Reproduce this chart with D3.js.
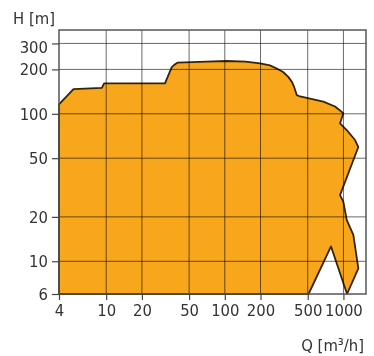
<!DOCTYPE html>
<meta charset="utf-8">
<style>

body {
  margin: 0;
  background: #fff;
}

svg text {
  font-family: "DejaVu Sans Condensed", "DejaVu Sans", sans-serif;
  font-stretch: condensed;
  font-size: 16.5px;
  fill: #333;
}

.grid line {
  stroke: #6a6a6a;
  stroke-width: 1;
  mix-blend-mode: multiply;
}

.axis line {
  stroke: #444;
  stroke-width: 1.2;
}

</style>
<body>
<svg width="374" height="356"></svg>
<script src="https://d3js.org/d3.v7.min.js"></script>
<script>

// Pump operating range, traced around the outline (Q in m3/h, H in m)
var rangeQ = [4, 4, 5.3, 9.2, 9.6, 31.3, 35.7, 37.3, 39.8, 70, 104, 150, 198, 240, 274, 310, 343, 369, 383, 404, 422,
              677, 849, 998, 936, 1066, 1253, 1336, 936, 998, 1066, 1212, 1336, 1073, 786, 508];
var rangeH = [6, 116, 147, 150, 161, 161, 207, 214, 222, 226, 228, 226, 220, 213, 203, 192, 178, 164, 153, 134, 132,
              121, 112, 101, 86, 77.6, 66.4, 59.5, 28.1, 25.4, 19.1, 15.1, 8.96, 6, 12.6, 6];

// Tick values
var qTicks = [4, 10, 20, 50, 100, 200, 500, 1000];
var hTicks = [6, 10, 20, 50, 100, 200, 300];

var svg = d3.select("svg"),
    margin = {top: 30, right: 8, bottom: 62, left: 59},
    width = +svg.attr("width") - margin.left - margin.right,
    height = +svg.attr("height") - margin.top - margin.bottom;

var x = d3.scaleLog().domain([4, 1550]).range([0, width]),
    y = d3.scaleLog().domain([6, 370]).range([height, 0]);

var g = svg.append("g")
    .attr("transform", "translate(" + margin.left + "," + margin.top + ")");

// Operating area
var pts = rangeQ.map(function(q, i) { return [q, rangeH[i]]; });
var line = d3.line()
    .x(function(d) { return x(d[0]); })
    .y(function(d) { return y(d[1]); });

g.append("path")
    .attr("d", line(pts) + "Z")
    .attr("fill", "#f8a71c")
    .attr("stroke", "#33240e")
    .attr("stroke-width", 1.8)
    .attr("stroke-linejoin", "round");

// Grid lines drawn on top of the area
var grid = g.append("g").attr("class", "grid");
grid.selectAll(".v")
    .data(qTicks.filter(function(d) { return d > 4; }))
    .enter().append("line")
      .attr("x1", function(d) { return x(d); })
      .attr("x2", function(d) { return x(d); })
      .attr("y1", 0)
      .attr("y2", height);
grid.selectAll(".h")
    .data(hTicks.filter(function(d) { return d > 6; }))
    .enter().append("line")
      .attr("y1", function(d) { return y(d); })
      .attr("y2", function(d) { return y(d); })
      .attr("x1", 0)
      .attr("x2", width);

// Frame
g.append("rect")
    .attr("width", width)
    .attr("height", height)
    .attr("fill", "none")
    .attr("stroke", "#555")
    .attr("stroke-width", 1.5);

// Axes
var xAxis = g.append("g")
    .attr("class", "axis")
    .attr("transform", "translate(0," + height + ")")
    .call(d3.axisBottom(x).tickValues(qTicks).tickFormat(d3.format("d")).tickSize(6).tickPadding(4));

var yAxis = g.append("g")
    .attr("class", "axis")
    .call(d3.axisLeft(y).tickValues(hTicks).tickFormat(d3.format("d")).tickSize(7).tickPadding(4));

xAxis.select(".domain").remove();
yAxis.select(".domain").remove();
svg.selectAll(".axis text").attr("fill", "#333");
xAxis.attr("font-family", null).attr("font-size", null);
yAxis.attr("font-family", null).attr("font-size", null);

// the 300 label sits a little lower than its tick
yAxis.selectAll(".tick text")
    .filter(function(d) { return d === 300; })
    .attr("dy", "0.55em");

// Axis titles
svg.append("text")
    .attr("x", 13)
    .attr("y", 24)
    .text("H [m]");

svg.append("text")
    .attr("x", 364)
    .attr("y", 351)
    .style("text-anchor", "end")
    .text("Q [m³/h]");

</script>
